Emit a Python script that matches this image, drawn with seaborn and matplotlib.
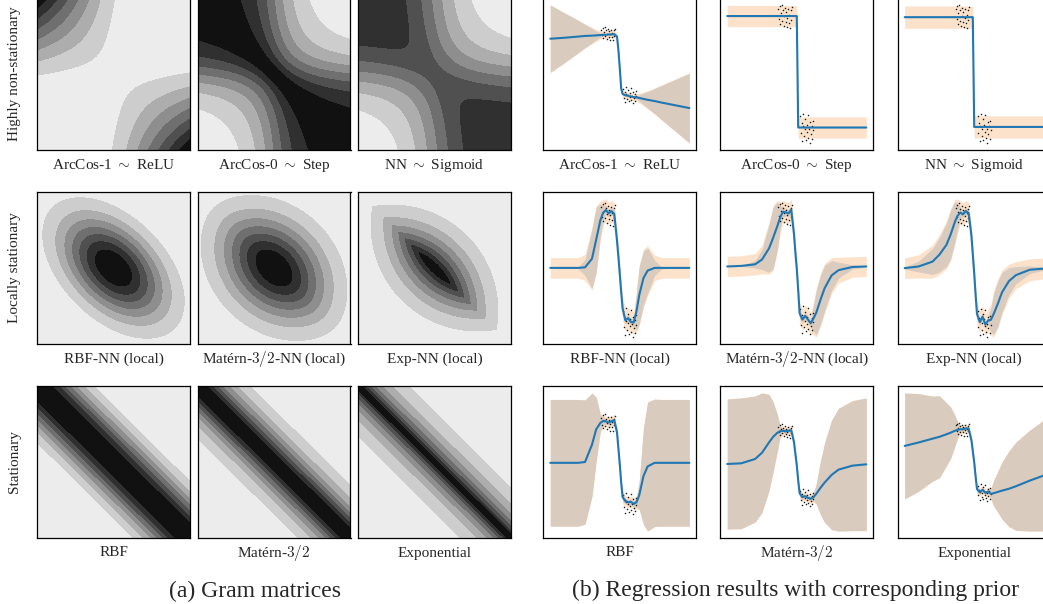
import numpy as np
import seaborn as sns
import matplotlib
matplotlib.use('Agg')
from matplotlib import pyplot as plt

sns.set_theme(style='white')
plt.rcParams['font.family'] = ['Liberation Serif', 'DejaVu Serif']
plt.rcParams['mathtext.fontset'] = 'cm'

W, H = 1043, 604

# ---- training data (two noisy clusters) ----
x_data = [-1.32, -1.27, -1.22, -1.18, -1.13, -1.08, -1.04, -0.99, -0.95, -0.90, -0.86,
          -0.81, -0.77, -0.72, -0.68, -0.63, -0.58, -0.54, -0.49, -0.45, -0.41, -0.37,
          0.26, 0.30, 0.35, 0.39, 0.44, 0.48, 0.53, 0.57, 0.62, 0.66, 0.71,
          0.75, 0.80, 0.84, 0.89, 0.93, 0.98, 1.02, 1.07, 1.11, 1.16, 1.20]
y_data = [1.12, 0.95, 1.18, 0.86, 1.05, 1.20, 0.92, 1.10, 0.83, 1.00, 1.15,
          0.90, 1.07, 0.80, 0.97, 1.13, 0.88, 1.02, 0.78, 1.10, 0.93, 1.16,
          -0.80, -1.10, -0.92, -1.25, -0.98, -0.75, -1.15, -1.02, -0.85, -1.22, -0.95,
          -1.08, -0.78, -1.18, -1.03, -1.28, -0.90, -1.12, -0.97, -1.20, -0.88, -1.05]

# ---- posterior mean / 2-sigma half width at these x positions ----
xk = [-5, -4, -3, -2.5, -2, -1.7, -1.4, -1.2, -1.0, -0.8, -0.6, -0.4, -0.2, -0.1, 0,
      0.1, 0.2, 0.4, 0.6, 0.8, 1.0, 1.2, 1.4, 1.7, 2, 2.5, 3, 4, 5]

mean_arccos1 = [0.83, 0.86, 0.90, 0.92, 0.93, 0.94, 0.95, 0.96, 0.96, 0.97, 0.97, 0.98, 0.90, 0.45, -0.15,
                -0.80, -0.98, -1.02, -1.04, -1.06, -1.08, -1.09, -1.11, -1.14, -1.17, -1.21, -1.26, -1.35, -1.44]
hw_arccos1 = [1.10, 0.82, 0.53, 0.38, 0.24, 0.15, 0.07, 0.04, 0.03, 0.03, 0.03, 0.03, 0.04, 0.05, 0.05,
              0.05, 0.04, 0.03, 0.03, 0.03, 0.03, 0.05, 0.10, 0.19, 0.27, 0.41, 0.56, 0.85, 1.14]

mean_arccos0 = [1.0] * 15 + [-1.0] * 14
hw_arccos0 = [0.01] * 29

mean_nn = [0.98] * 14 + [-0.99] * 15
hw_nn = [0.01] * 29

mean_rbf_nn = [0.0, 0.0, 0.0, 0.01, 0.17, 0.52, 0.88, 1.02, 1.07, 1.01, 1.05, 1.0, 0.5, 0.2, -0.12,
               -0.45, -0.75, -0.97, -0.93, -1.0, -1.01, -0.8, -0.5, -0.19, -0.05, 0.0, 0.0, 0.0, 0.0]
hw_rbf_nn = [0.0, 0.0, 0.01, 0.15, 0.55, 0.6, 0.3, 0.15, 0.08, 0.07, 0.07, 0.07, 0.1, 0.1, 0.1,
             0.1, 0.1, 0.07, 0.07, 0.07, 0.08, 0.35, 0.53, 0.5, 0.42, 0.14, 0.02, 0.0, 0.0]

mean_mat_nn = [0.0, 0.01, 0.04, 0.13, 0.34, 0.54, 0.76, 0.92, 1.03, 1.02, 1.0, 1.07, 0.6, 0.25, -0.05,
               -0.45, -0.88, -1.0, -0.93, -1.0, -1.07, -0.98, -0.87, -0.63, -0.41, -0.17, -0.07, -0.01, 0.0]
hw_mat_nn = [0.0, 0.01, 0.07, 0.19, 0.45, 0.58, 0.45, 0.22, 0.1, 0.07, 0.07, 0.07, 0.1, 0.1, 0.1,
             0.1, 0.1, 0.07, 0.07, 0.07, 0.08, 0.25, 0.42, 0.46, 0.43, 0.28, 0.15, 0.04, 0.01]

mean_exp_nn = [0.0, 0.03, 0.12, 0.25, 0.43, 0.62, 0.85, 0.97, 1.03, 1.0, 1.06, 1.02, 0.6, 0.25, -0.1,
               -0.5, -0.85, -1.0, -0.9, -1.05, -0.97, -0.96, -0.85, -0.66, -0.45, -0.24, -0.13, -0.03, -0.01]
hw_exp_nn = [0.02, 0.1, 0.24, 0.32, 0.4, 0.45, 0.38, 0.25, 0.1, 0.07, 0.07, 0.07, 0.1, 0.1, 0.1,
             0.1, 0.1, 0.07, 0.07, 0.07, 0.08, 0.22, 0.38, 0.42, 0.37, 0.25, 0.16, 0.07, 0.03]

mean_rbf = [0.0, 0.0, 0.0, 0.02, 0.45, 0.83, 0.99, 1.04, 1.03, 1.0, 1.03, 1.06, 0.75, 0.35, -0.05,
            -0.5, -0.85, -0.95, -0.98, -0.97, -1.02, -0.98, -0.8, -0.33, -0.09, 0.0, 0.0, 0.0, 0.0]
hw_rbf = [1.57, 1.57, 1.57, 1.54, 1.28, 0.8, 0.2, 0.1, 0.07, 0.07, 0.07, 0.07, 0.1, 0.1, 0.1,
          0.1, 0.1, 0.07, 0.07, 0.07, 0.08, 0.12, 0.35, 1.2, 1.6, 1.58, 1.57, 1.57, 1.57]

mean_mat = [0.0, 0.02, 0.15, 0.34, 0.65, 0.82, 0.94, 0.99, 1.0, 0.99, 1.0, 1.02, 0.65, 0.3, -0.05,
            -0.5, -0.88, -1.0, -0.97, -1.02, -1.05, -1.0, -0.9, -0.72, -0.56, -0.33, -0.17, -0.05, -0.01]
hw_mat = [1.96, 1.97, 1.9, 1.8, 1.45, 1.05, 0.55, 0.15, 0.08, 0.07, 0.07, 0.07, 0.1, 0.1, 0.1,
          0.1, 0.1, 0.07, 0.07, 0.07, 0.08, 0.1, 0.3, 0.8, 1.2, 1.65, 1.85, 1.96, 2.0]

mean_exp = [0.47, 0.58, 0.7, 0.76, 0.84, 0.89, 0.95, 0.98, 1.0, 1.0, 1.03, 1.02, 0.65, 0.3, -0.05,
            -0.5, -0.9, -1.0, -0.92, -1.02, -0.98, -1.05, -1.03, -0.99, -0.95, -0.89, -0.81, -0.63, -0.47]
hw_exp = [1.68, 1.55, 1.35, 1.3, 1.0, 0.82, 0.5, 0.25, 0.08, 0.07, 0.07, 0.07, 0.1, 0.1, 0.1,
          0.1, 0.1, 0.07, 0.07, 0.07, 0.08, 0.15, 0.4, 0.65, 0.9, 1.2, 1.4, 1.6, 1.76]

reg_means = [[mean_arccos1, mean_arccos0, mean_nn],
             [mean_rbf_nn, mean_mat_nn, mean_exp_nn],
             [mean_rbf, mean_mat, mean_exp]]
reg_hws = [[hw_arccos1, hw_arccos0, hw_nn],
           [hw_rbf_nn, hw_mat_nn, hw_exp_nn],
           [hw_rbf, hw_mat, hw_exp]]
reg_noise = [[0.12, 0.19, 0.2],
             [0.19, 0.19, 0.19],
             [0.12, 0.12, 0.12]]

titles = [[r'ArcCos-1 $\sim$ ReLU', r'ArcCos-0 $\sim$ Step', r'NN $\sim$ Sigmoid'],
          ['RBF-NN (local)', r'Matérn-$3/2$-NN (local)', 'Exp-NN (local)'],
          ['RBF', r'Matérn-$3/2$', 'Exponential']]
row_labels = ['Highly non-stationary', 'Locally stationary', 'Stationary']

# ---- kernel hyper-parameters for the Gram matrices ----
sigma_b = [1.0, 1.0, 1.0]          # bias scale for arccos-1, arccos-0, nn
local_ls = [2.9, 4.8, 2.8]         # stationary part of the local kernels
local_env = [2.75, 2.75, 2.8]      # envelope width of the local kernels
stat_ls = [1.81, 1.64, 1.59]       # rbf, matern-3/2, exponential
gram_bands = [[8, 8, 7], [8, 8, 8], [8, 8, 8]]


def arccos_k(a, b, sb, order):
    na = np.sqrt(sb ** 2 + a ** 2)
    nb = np.sqrt(sb ** 2 + b ** 2)
    c = np.clip((sb ** 2 + a * b) / (na * nb), -1, 1)
    t = np.arccos(c)
    if order == 0:
        return 1 - t / np.pi
    return na * nb * (np.sin(t) + (np.pi - t) * c) / np.pi


def nn_k(a, b, sb):
    s = 2 * (sb ** 2 + a * b) / np.sqrt((1 + 2 * (sb ** 2 + a ** 2)) * (1 + 2 * (sb ** 2 + b ** 2)))
    return 2 / np.pi * np.arcsin(s)


def stat_k(d, ls, kind):
    d = np.abs(d)
    if kind == 'rbf':
        return np.exp(-d ** 2 / (2 * ls ** 2))
    if kind == 'mat':
        r = np.sqrt(3) * d / ls
        return (1 + r) * np.exp(-r)
    return np.exp(-d / ls)


g3 = np.linspace(-3, 3, 301)
g5 = np.linspace(-5, 5, 301)
A3, B3 = np.meshgrid(g3, g3, indexing='ij')   # A = row input, B = column input
A5, B5 = np.meshgrid(g5, g5, indexing='ij')
kinds = ['rbf', 'mat', 'exp']
env = [np.exp(-(A5 ** 2 + B5 ** 2) / (2 * s ** 2)) for s in local_env]

grams = [[arccos_k(A3, B3, sigma_b[0], 1), arccos_k(A3, B3, sigma_b[1], 0), nn_k(A3, B3, sigma_b[2])],
         [stat_k(A5 - B5, local_ls[i], kinds[i]) * env[i] for i in range(3)],
         [stat_k(A5 - B5, stat_ls[i], kinds[i]) for i in range(3)]]
grids = [g3, g5, g5]

greys = sns.blend_palette(['#ececec', '#111111'], 8)
PEACH = '#fde2cb'
TAN = '#d9cbbd'
BLUE = '#1f77b4'

fig = plt.figure(figsize=(W / 100, H / 100), dpi=100)

row_top = [-2, 192, 386]
left_x = [37, 197.5, 358]
right_x = [543.3, 720.3, 897.7]
PW, PH = 153, 152


def rect(x0, y0):
    return [x0 / W, 1 - (y0 + PH) / H, PW / W, PH / H]


def clean(ax):
    ax.set_xticks([])
    ax.set_yticks([])
    for s in ax.spines.values():
        s.set_visible(True)
        s.set_color('black')
        s.set_linewidth(0.9)


for r in range(3):
    for c in range(3):
        # Gram matrix
        ax = fig.add_axes(rect(left_x[c], row_top[r]))
        K = grams[r][c]
        g = grids[r]
        n = gram_bands[r][c]
        lv = np.linspace(K.min(), K.max(), n + 1)
        ax.contourf(g, g, K, levels=lv, colors=greys[:n])
        ax.invert_yaxis()
        clean(ax)
        fig.text((left_x[c] + PW / 2) / W, 1 - (row_top[r] + PH + 15) / H, titles[r][c],
                 ha='center', va='center', fontsize=11)

        # regression result
        ax = fig.add_axes(rect(right_x[c], row_top[r]))
        m = np.array(reg_means[r][c])
        h = np.array(reg_hws[r][c])
        outer = np.sqrt(h ** 2 + reg_noise[r][c] ** 2)
        ax.fill_between(xk, m - outer, m + outer, color=PEACH, lw=0, zorder=1)
        ax.fill_between(xk, m - h, m + h, color=TAN, lw=0, zorder=2)
        sns.scatterplot(x=x_data, y=y_data, ax=ax, marker='.', s=5, color='k',
                        linewidth=0, zorder=3, legend=False)
        sns.lineplot(x=xk, y=m, ax=ax, color=BLUE, lw=1.5, zorder=4)
        clean(ax)
        fig.text((right_x[c] + PW / 2) / W, 1 - (row_top[r] + PH + 15) / H, titles[r][c],
                 ha='center', va='center', fontsize=11)

    fig.text(15 / W, 1 - (row_top[r] + PH / 2) / H, row_labels[r], rotation=90,
             ha='center', va='center', fontsize=11)

fig.text(255 / W, 1 - 591 / H, '(a) Gram matrices', ha='center', va='center', fontsize=17)
fig.text(796 / W, 1 - 590 / H, '(b) Regression results with corresponding prior',
         ha='center', va='center', fontsize=17)

fig.savefig('out.png', dpi=100)
